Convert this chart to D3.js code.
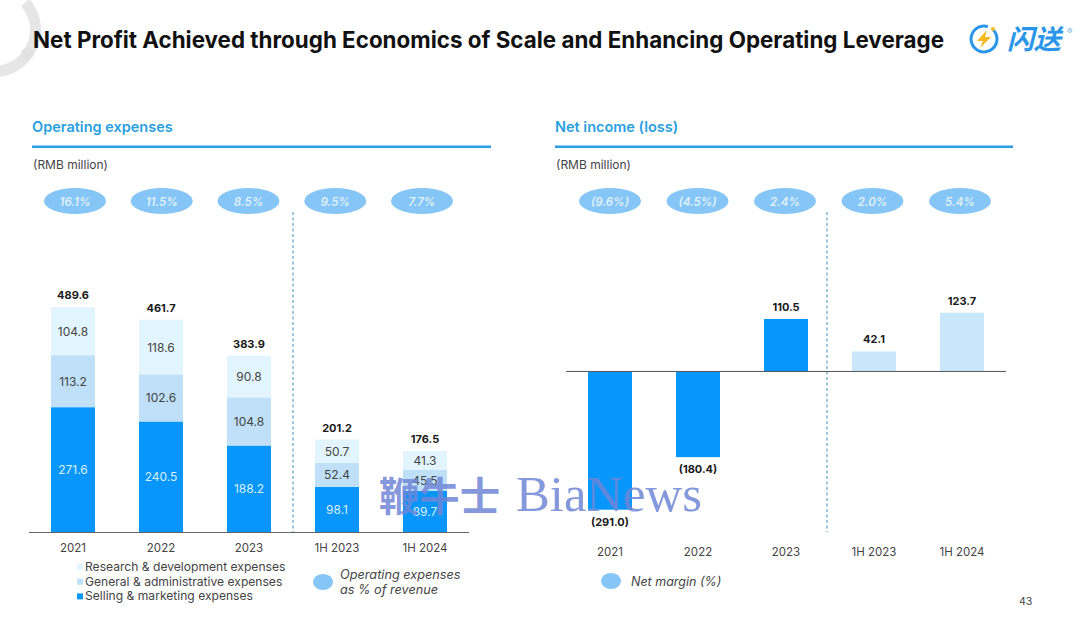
<!DOCTYPE html>
<html><head><meta charset="utf-8">
<script src="https://cdn.jsdelivr.net/npm/d3@7"></script>
<style>
html,body{margin:0;padding:0;background:#fff}
svg{display:block}
text{font-family:"Inter","Open Sans",sans-serif}
</style></head><body>
<svg id="c" width="1080" height="619"></svg>
<script>
const categories = ["2021","2022","2023","1H 2023","1H 2024"];
const salesMarketing = [271.6,240.5,188.2,98.1,89.7];
const generalAdmin = [113.2,102.6,104.8,52.4,45.5];
const researchDev = [104.8,118.6,90.8,50.7,41.3];
const opexTotals = ["489.6","461.7","383.9","201.2","176.5"];
const opexPercent = ["16.1%","11.5%","8.5%","9.5%","7.7%"];
const netIncome = [-291.0,-180.4,110.5,42.1,123.7];
const netLabels = ["(291.0)","(180.4)","110.5","42.1","123.7"];
const netMargin = ["(9.6%)","(4.5%)","2.4%","2.0%","5.4%"];
const legendOpex = ["Research & development expenses","General & administrative expenses","Selling & marketing expenses"];

const DARK="#0896fa", MID="#bfe0f8", LIGHT="#e2f4fd", PILL="#85c6f6", HEAD="#2a9fe0", RULE="#2a9fe6", INK="#444";
const svg=d3.select("#c");

// corner decoration
svg.append("path").attr("transform","translate(-6,30)")
  .attr("d",d3.arc()({innerRadius:36,outerRadius:47,startAngle:0.85,endAngle:3.15}))
  .attr("fill","#e6e6e6");
svg.append("circle").attr("cx",27).attr("cy",54).attr("r",6).attr("fill","#e2e2e2");

// title
svg.append("text").attr("x",33).attr("y",48).attr("font-size",22.5).attr("font-weight",700).attr("fill","#111")
  .attr("textLength",911).attr("lengthAdjust","spacingAndGlyphs")
  .text("Net Profit Achieved through Economics of Scale and Enhancing Operating Leverage");

// logo
const logo=svg.append("g").attr("transform","translate(984,39)");
logo.append("path").attr("d",d3.arc()({innerRadius:11.5,outerRadius:14.5,startAngle:0.75,endAngle:Math.PI*2+0.3})).attr("fill","#2a96ea");
logo.append("circle").attr("cx",9).attr("cy",-10).attr("r",2).attr("fill","#f5b921");
logo.append("path").attr("d","M3,-9 L-7,2 L-1,2 L-4,9 L7,-2 L1,-2 Z").attr("fill","#f5b921");
svg.append("text").attr("x",1007).attr("y",49).attr("font-size",27).attr("font-weight",700).attr("font-style","italic")
  .style("font-family",'"Noto Sans CJK SC"').attr("fill","#2a96ea").text("闪送");
svg.append("text").attr("x",1067).attr("y",34).attr("font-size",8).attr("fill","#5aaee8").text("®");

function header(x,w,title){
  svg.append("text").attr("x",x).attr("y",132).attr("font-size",14.5).attr("font-weight",600).attr("fill",HEAD).text(title);
  svg.append("rect").attr("x",x).attr("y",145.5).attr("width",w).attr("height",2.5).attr("fill",RULE);
  svg.append("text").attr("x",x+1).attr("y",169).attr("font-size",12).attr("fill",INK).text("(RMB million)");
}
header(32,459,"Operating expenses");
header(555,458,"Net income (loss)");

function pills(labels,r0,r1){
  const px=d3.scalePoint().domain(categories).range([r0,r1]);
  const g=svg.append("g");
  g.selectAll("ellipse").data(labels).join("ellipse")
    .attr("cx",(d,i)=>px(categories[i])).attr("cy",201).attr("rx",31).attr("ry",13).attr("fill",PILL);
  g.selectAll("text").data(labels).join("text")
    .attr("x",(d,i)=>px(categories[i])).attr("y",205.5).attr("text-anchor","middle")
    .attr("font-size",11.5).attr("font-style","italic").attr("font-weight",600).attr("fill","#dff1fd").text(d=>d);
}

function axis(g,x){
  g.call(d3.axisBottom(x).tickSize(0).tickPadding(6));
  g.selectAll("text").attr("font-size",11.5).attr("fill",INK).style("font-family",'"Inter","Open Sans",sans-serif');
  g.select(".domain").attr("stroke","none");
}

// Left: stacked bars
const x1=d3.scaleBand().domain(categories).range([29,469]).paddingInner(0.5).paddingOuter(0.25);
const y1=d3.scaleLinear().domain([0,489.6]).range([532,307]);
const rows=categories.map((c,i)=>({c,sm:salesMarketing[i],ga:generalAdmin[i],rd:researchDev[i]}));
const stack=d3.stack().keys(["sm","ga","rd"])(rows);
const fills={sm:DARK,ga:MID,rd:LIGHT};
pills(opexPercent,75,422);
svg.append("line").attr("x1",293).attr("x2",293).attr("y1",212).attr("y2",532).attr("stroke","#3f8fc4").attr("stroke-dasharray","3 2.5").attr("stroke-width",1);
const sg=svg.append("g");
stack.forEach(s=>{
  sg.append("g").selectAll("rect").data(s).join("rect")
    .attr("x",d=>x1(d.data.c)).attr("width",x1.bandwidth())
    .attr("y",d=>y1(d[1])).attr("height",d=>y1(d[0])-y1(d[1])).attr("fill",fills[s.key]);
  sg.append("g").selectAll("text").data(s).join("text")
    .attr("x",d=>x1(d.data.c)+x1.bandwidth()/2).attr("y",d=>(y1(d[0])+y1(d[1]))/2+4.5)
    .attr("text-anchor","middle").attr("font-size",12)
    .attr("fill",s.key==="sm"?"#d8effd":INK).text(d=>d.data[s.key].toFixed(1));
});
svg.append("g").selectAll("text").data(opexTotals).join("text")
  .attr("x",(d,i)=>x1(categories[i])+x1.bandwidth()/2)
  .attr("y",(d,i)=>y1(+d)-8).attr("text-anchor","middle").attr("font-size",11).attr("font-weight",700).attr("fill","#1a1a1a").text(d=>d);
svg.append("g").attr("transform","translate(0,538)").call(g=>axis(g,x1));
svg.append("line").attr("x1",29).attr("x2",469).attr("y1",y1(0)+.5).attr("y2",y1(0)+.5).attr("stroke","#666").attr("stroke-width",1);

// legend left
const legendColors=[LIGHT,MID,DARK];
legendOpex.forEach((t,i)=>{
  const yy=571+i*14.7;
  svg.append("rect").attr("x",77).attr("y",yy-7).attr("width",6).attr("height",6).attr("fill",legendColors[i]);
  svg.append("text").attr("x",85).attr("y",yy).attr("font-size",12.1).attr("fill",INK).text(t);
});
svg.append("ellipse").attr("cx",323).attr("cy",582).attr("rx",10).attr("ry",8).attr("fill",PILL);
svg.append("text").attr("x",340).attr("y",579).attr("font-size",12.7).attr("font-style","italic").attr("fill",INK).text("Operating expenses");
svg.append("text").attr("x",340).attr("y",594).attr("font-size",12.7).attr("font-style","italic").attr("fill",INK).text("as % of revenue");

// Right: net income
const x2=d3.scaleBand().domain(categories).range([566,1006]).paddingInner(0.5).paddingOuter(0.25);
const y2=d3.scaleLinear().domain([-291,123.7]).range([509.7,312.7]);
pills(netMargin,610,960);
svg.append("line").attr("x1",827).attr("x2",827).attr("y1",212).attr("y2",532).attr("stroke","#3f8fc4").attr("stroke-dasharray","3 2.5").attr("stroke-width",1);
svg.append("g").selectAll("rect").data(netIncome).join("rect")
  .attr("x",(d,i)=>x2(categories[i])).attr("width",x2.bandwidth())
  .attr("y",d=>y2(Math.max(0,d))).attr("height",d=>Math.abs(y2(d)-y2(0)))
  .attr("fill",(d,i)=>i<3?DARK:"#c9e7fb");
svg.append("line").attr("x1",566).attr("x2",1006).attr("y1",y2(0)).attr("y2",y2(0)).attr("stroke","#555").attr("stroke-width",1);
svg.append("g").selectAll("text").data(netLabels).join("text")
  .attr("x",(d,i)=>x2(categories[i])+x2.bandwidth()/2)
  .attr("y",(d,i)=>netIncome[i]<0?y2(netIncome[i])+16:y2(netIncome[i])-8)
  .attr("text-anchor","middle").attr("font-size",11).attr("font-weight",700).attr("fill","#1a1a1a").text(d=>d);
svg.append("g").attr("transform","translate(0,542)").call(g=>axis(g,x2));
svg.append("ellipse").attr("cx",611).attr("cy",581).attr("rx",10).attr("ry",8).attr("fill",PILL);
svg.append("text").attr("x",631).attr("y",586).attr("font-size",12.5).attr("font-style","italic").attr("fill",INK).text("Net margin (%)");
svg.append("text").attr("x",1019).attr("y",605).attr("font-size",10.5).attr("fill",INK).text("43");

// watermark
svg.append("text").attr("x",379).attr("y",511).attr("font-size",40).attr("font-weight",700).attr("fill","#6f86d6").attr("fill-opacity",0.85)
  .attr("textLength",121).attr("lengthAdjust","spacingAndGlyphs")
  .style("font-family",'"Noto Sans CJK SC",serif').text("鞭牛士");
svg.append("text").attr("x",516).attr("y",511).attr("font-size",50).attr("fill","#6f86d6").attr("fill-opacity",0.85)
  .attr("textLength",186).attr("lengthAdjust","spacingAndGlyphs")
  .style("font-family",'"Liberation Serif",serif').text("BiaNews");
</script>
</body></html>
